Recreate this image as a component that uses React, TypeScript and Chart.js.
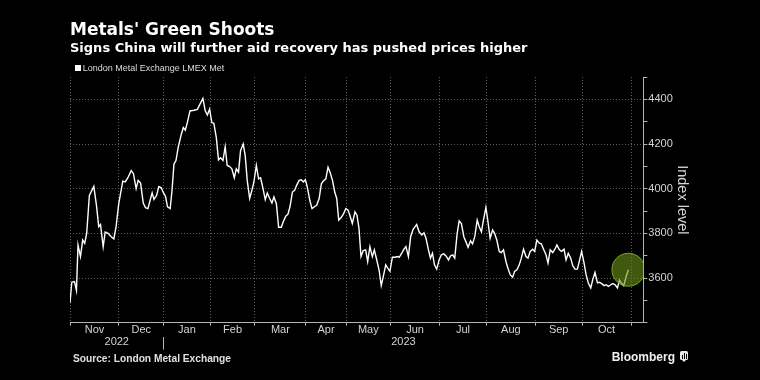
import React, { useEffect, useRef } from 'react';
import { Chart, registerables } from 'chart.js';

Chart.register(...registerables);

// Trading-day position (0 = 1 Nov 2022) of each reading
const tradingDay = [
  0, 0.8, 2, 2.9, 3.6, 4.7, 5.7, 6.6, 7.5, 8.7,
  10.7, 11.9, 12.9, 13.7, 14.9, 15.8, 17.1, 18.5, 19.7, 20.7,
  21.9, 23.7, 24.8, 26, 27.5, 28.5, 29.7, 30.6, 31.7, 32.9,
  33.9, 35, 36, 36.9, 37.7, 38.9, 39.9, 41, 42, 42.9,
  43.8, 45, 45.8, 46.7, 47.6, 48.6, 50, 50.9, 51.8, 52.7,
  53.9, 55.7, 57.2, 58.5, 59.7, 60.7, 61.7, 62.7, 63.7, 64.6,
  65.7, 66.7, 67.6, 68.7, 69.7, 70.6, 71.7, 72.7, 73.8, 74.7,
  75.7, 76.6, 77.8, 78.7, 79.6, 80.7, 81.7, 82.6, 83.7, 84.7,
  85.6, 86.7, 87.7, 88.6, 89.7, 90.7, 91.6, 92.7, 93.7, 94.9,
  95.8, 96.9, 97.9, 98.8, 99.9, 100.9, 101.8, 102.9, 103.9, 104.8,
  105.7, 106.6, 107.7, 108.7, 109.8, 110.8, 111.9, 112.9, 113.8, 114.9,
  115.9, 116.8, 117.9, 118.9, 119.8, 120.7, 121.8, 122.8, 123.9, 124.9,
  125.7, 126.8, 128, 128.9, 129.8, 130.7, 131.7, 132.8, 133.7, 134.7,
  135.8, 136.7, 137.7, 138.8, 139.8, 140.9, 141.8, 142.7, 143.7, 144.8,
  146, 147, 147.9, 149, 150, 150.9, 152, 153, 154.1, 155,
  155.7, 156.8, 158, 159, 159.9, 161, 161.9, 162.8, 163.7, 164.7,
  165.8, 166.8, 167.9, 168.9, 170, 170.9, 171.9, 172.8, 173.9, 174.8,
  175.8, 176.9, 177.8, 178.8, 179.9, 180.8, 181.8, 182.9, 183.8, 184.8,
  185.7, 186.8, 187.6, 188.7, 189.8, 190.7, 191.7, 192.8, 193.7, 194.7,
  195.8, 196.7, 197.7, 198.8, 199.7, 200.7, 201.8, 202.7, 203.7, 204.8,
  205.7, 206.7, 207.8, 208.7, 209.7, 210.8, 211.7, 212.7, 213.8, 214.7,
  215.7, 216.8, 217.8, 218.7, 219.8, 220.8, 221.9, 222.8, 223.8, 224.9,
  225.8, 226.8, 227.9, 228.9, 229.8, 230.9, 231.8, 232.8, 233.9, 234.8,
  235.8, 236.9, 237.8, 238.8, 239.9, 240.8, 241.8, 242.9, 243.8, 244.8,
  245.9, 246.8, 247.8, 248.7, 249.8, 250.8,
];

// London Metal Exchange LMEX index level
const lmex = [
  3489, 3581, 3584, 3545, 3748, 3696, 3770, 3755, 3800, 3970,
  4010, 3924, 3830, 3840, 3740, 3806, 3800, 3785, 3775, 3830,
  3933, 4034, 4030, 4049, 4081, 4067, 4000, 4037, 4025, 3936,
  3915, 3911, 3948, 3981, 3952, 3970, 4010, 4004, 3981, 3966,
  3919, 3911, 3990, 4111, 4126, 4185, 4244, 4274, 4262, 4296,
  4348, 4351, 4355, 4381, 4404, 4350, 4330, 4356, 4296, 4293,
  4230, 4129, 4138, 4126, 4188, 4104, 4099, 4089, 4049, 4089,
  4074, 4170, 4200, 4148, 4037, 3956, 3993, 4030, 4104, 4044,
  4049, 4000, 3951, 3981, 3956, 3936, 3963, 3933, 3827, 3827,
  3852, 3877, 3886, 3919, 3985, 3993, 4015, 4037, 4040, 4030,
  4040, 4007, 3948, 3911, 3919, 3926, 3956, 4022, 4034, 4044,
  4096, 4074, 4037, 3985, 3956, 3859, 3871, 3886, 3911, 3904,
  3881, 3844, 3896, 3881, 3822, 3696, 3723, 3726, 3674, 3741,
  3696, 3726, 3684, 3637, 3566, 3615, 3659, 3644, 3630, 3693,
  3693, 3696, 3693, 3711, 3729, 3741, 3696, 3785, 3818, 3830,
  3840, 3807, 3793, 3803, 3778, 3726, 3689, 3711, 3659, 3640,
  3681, 3704, 3708, 3699, 3681, 3699, 3704, 3689, 3800, 3856,
  3844, 3785, 3763, 3738, 3767, 3753, 3785, 3859, 3830, 3807,
  3859, 3916, 3862, 3778, 3815, 3800, 3770, 3719, 3714, 3726,
  3674, 3644, 3615, 3604, 3630, 3637, 3659, 3689, 3729, 3696,
  3689, 3719, 3729, 3719, 3770, 3756, 3753, 3729, 3704, 3667,
  3726, 3714, 3729, 3748, 3726, 3719, 3729, 3681, 3711, 3689,
  3655, 3640, 3640, 3681, 3719, 3667, 3615, 3578, 3556, 3593,
  3625, 3578, 3581, 3575, 3566, 3570, 3563, 3570, 3575, 3570,
  3556, 3590, 3575, 3566, 3607, 3637,
];

// Month boundaries in trading days (Nov 2022 .. Nov 2023)
const monthStarts = [0, 22, 42, 63, 83, 106, 124, 144, 166, 187, 209, 230, 252];
const monthLabels = ['Nov', 'Dec', 'Jan', 'Feb', 'Mar', 'Apr', 'May', 'Jun', 'Jul', 'Aug', 'Sep', 'Oct'];
const yearLabels = ['2022', '', '2023'];
const yearBreak = 42;
const xMax = 257.5;
const yMin = 3400;
const yMax = 4500;
const yTickLabels = [3600, 3800, 4000, 4200, 4400];

const TITLE = "Metals' Green Shoots";
const SUBTITLE = 'Signs China will further aid recovery has pushed prices higher';
const SERIES_NAME = 'London Metal Exchange LMEX Met';
const SOURCE = 'Source: London Metal Exchange';

export default function App() {
  const canvasRef = useRef<HTMLCanvasElement>(null);

  useEffect(() => {
    document.body.style.margin = '0';
    document.body.style.background = '#000';
    const canvas = canvasRef.current;
    if (!canvas) return;

    const gridColor = '#5c5c5c';
    const axisColor = '#b4b4b4';
    const labelColor = '#d4d4d4';
    const axisFont = "'Liberation Sans', Arial, sans-serif";

    const series = tradingDay.map((d, k) => ({ x: d, y: lmex[k] }));
    const last = series[series.length - 1];
    const monthMids = monthLabels.map((_, k) => (monthStarts[k] + monthStarts[k + 1]) / 2);
    const yearTicks = [yearBreak / 2, yearBreak, (yearBreak + xMax) / 2];

    const chart = new Chart(canvas, {
      type: 'line',
      data: {
        datasets: [
          {
            label: 'highlight',
            data: [last],
            showLine: false,
            pointRadius: 16.5,
            pointHoverRadius: 16.5,
            pointBackgroundColor: 'rgba(105,150,23,0.6)',
            pointBorderColor: 'rgba(140,185,45,0.85)',
            pointBorderWidth: 1,
            order: 0,
          },
          {
            label: SERIES_NAME,
            data: series,
            borderColor: '#ffffff',
            borderWidth: 1.4,
            pointRadius: 0,
            tension: 0,
            order: 1,
          },
        ],
      },
      options: {
        responsive: false,
        animation: false,
        events: [],
        layout: { padding: { left: 70, top: 77, right: 65.6, bottom: 29.3 } },
        plugins: { legend: { display: false }, tooltip: { enabled: false } },
        scales: {
          x: {
            type: 'linear',
            position: 'bottom',
            min: 0,
            max: xMax,
            weight: 0,
            afterBuildTicks: (s: any) => {
              s.ticks = monthStarts.map((v) => ({ value: v }));
            },
            afterFit: (s: any) => {
              s.height = 0;
            },
            ticks: { display: false },
            grid: {
              color: gridColor,
              lineWidth: 1,
              drawTicks: true,
              tickLength: 3,
              tickColor: axisColor,
              tickBorderDash: [],
            },
            border: { display: true, color: axisColor, width: 1, dash: [1, 2] },
          },
          xMonths: {
            type: 'linear',
            position: 'bottom',
            min: 0,
            max: xMax,
            weight: 1,
            afterBuildTicks: (s: any) => {
              s.ticks = monthMids.map((v) => ({ value: v }));
            },
            afterFit: (s: any) => {
              s.height = 14;
            },
            ticks: {
              callback: (_v: any, i: number) => monthLabels[i],
              autoSkip: false,
              maxRotation: 0,
              padding: 2,
              color: labelColor,
              font: { family: axisFont, size: 11, lineHeight: 1 },
            },
            grid: { display: false, drawTicks: false },
            border: { display: false },
          },
          xYears: {
            type: 'linear',
            position: 'bottom',
            min: 0,
            max: xMax,
            weight: 2,
            afterBuildTicks: (s: any) => {
              s.ticks = yearTicks.map((v) => ({ value: v }));
            },
            afterFit: (s: any) => {
              s.height = 14;
            },
            ticks: {
              callback: (_v: any, i: number) => yearLabels[i],
              autoSkip: false,
              maxRotation: 0,
              padding: -13,
              color: labelColor,
              font: { family: axisFont, size: 11, lineHeight: 1 },
            },
            grid: {
              display: true,
              drawOnChartArea: false,
              drawTicks: true,
              tickLength: 13,
              color: 'rgba(0,0,0,0)',
              tickColor: (c: any) => (c.index === 1 ? axisColor : 'rgba(0,0,0,0)'),
              tickBorderDash: [],
            },
            border: { display: false },
          },
          y: {
            type: 'linear',
            position: 'right',
            min: yMin,
            max: yMax,
            afterFit: (s: any) => {
              s.width = 51.1;
            },
            ticks: {
              stepSize: 100,
              autoSkip: false,
              padding: 1,
              color: labelColor,
              font: { family: axisFont, size: 11 },
              callback: (v: any) => (yTickLabels.includes(Number(v)) ? String(v) : ''),
            },
            grid: {
              color: (c: any) =>
                c.tick && yTickLabels.includes(c.tick.value) ? gridColor : 'rgba(0,0,0,0)',
              lineWidth: 1,
              drawTicks: true,
              tickLength: 4,
              tickColor: axisColor,
              tickBorderDash: [],
            },
            border: { display: true, color: axisColor, width: 1, dash: [1, 2] },
            title: {
              display: true,
              text: 'Index level',
              color: labelColor,
              font: { family: axisFont, size: 14.5 },
            },
          },
        },
      },
    } as any);

    return () => chart.destroy();
  }, []);

  const base: React.CSSProperties = {
    position: 'absolute',
    whiteSpace: 'nowrap',
    lineHeight: 1,
    margin: 0,
  };

  return (
    <div
      style={{
        position: 'absolute',
        left: 0,
        top: 0,
        width: 760,
        height: 380,
        background: '#000',
        overflow: 'hidden',
      }}
    >
      <canvas
        ref={canvasRef}
        width={760}
        height={380}
        style={{ position: 'absolute', left: 0, top: 0 }}
      />
      <div
        style={{
          ...base,
          left: 70,
          top: 20.6,
          fontFamily: "'DejaVu Sans', sans-serif",
          fontWeight: 700,
          fontSize: 17,
          color: '#fff',
        }}
      >
        {TITLE}
      </div>
      <div
        style={{
          ...base,
          left: 70,
          top: 40.7,
          fontFamily: "'DejaVu Sans', sans-serif",
          fontWeight: 700,
          fontSize: 13,
          color: '#fff',
        }}
      >
        {SUBTITLE}
      </div>
      <div
        style={{
          position: 'absolute',
          left: 75,
          top: 65.3,
          width: 6,
          height: 6,
          background: '#fff',
        }}
      />
      <div
        style={{
          ...base,
          left: 82.7,
          top: 64.1,
          fontFamily: "'Liberation Sans', Arial, sans-serif",
          fontSize: 9,
          color: '#dcdcdc',
        }}
      >
        {SERIES_NAME}
      </div>
      <div
        style={{
          ...base,
          left: 73,
          top: 353.7,
          fontFamily: "'Liberation Sans', Arial, sans-serif",
          fontWeight: 700,
          fontSize: 10.2,
          color: '#e0e0e0',
        }}
      >
        {SOURCE}
      </div>
      <div
        style={{
          ...base,
          left: 611.7,
          top: 350.8,
          fontFamily: "'Liberation Sans', Arial, sans-serif",
          fontWeight: 700,
          fontSize: 12,
          color: '#f0f0f0',
        }}
      >
        Bloomberg
      </div>
      <div
        style={{
          position: 'absolute',
          left: 680,
          top: 351,
          width: 8,
          height: 9,
          background: '#e8e8e8',
          borderRadius: 1.5,
        }}
      >
        <div style={{ position: 'absolute', left: 1.5, top: 4, width: 1, height: 3.5, background: '#000' }} />
        <div style={{ position: 'absolute', left: 3.5, top: 2, width: 1, height: 5.5, background: '#000' }} />
        <div style={{ position: 'absolute', left: 5.5, top: 3, width: 1, height: 4.5, background: '#000' }} />
      </div>
      <div
        style={{
          position: 'absolute',
          left: 682,
          top: 360,
          width: 0,
          height: 0,
          borderLeft: '2px solid transparent',
          borderRight: '2px solid transparent',
          borderTop: '2px solid #e8e8e8',
        }}
      />
    </div>
  );
}
